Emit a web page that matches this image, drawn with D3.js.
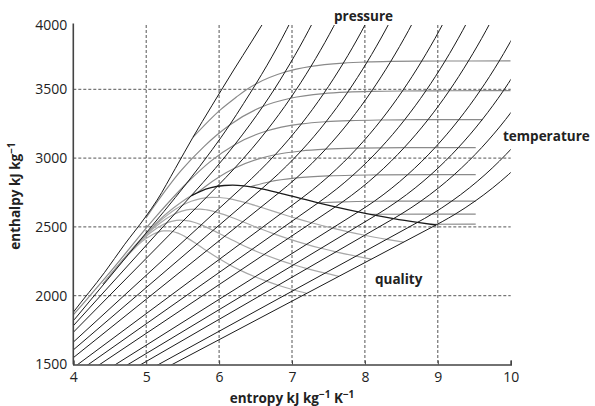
<!DOCTYPE html>
<html><head><meta charset="utf-8">
<script src="https://cdn.jsdelivr.net/npm/d3@7"></script>
<style>
html,body{margin:0;padding:0;background:#fff;}
svg{display:block;}
text{font-family:"Open Sans","Noto Sans",sans-serif;}
</style></head>
<body><svg id="c" width="595" height="406"></svg>
<script>
// ---- axis ticks ----
const sTicks = [4,5,6,7,8,9,10];
const hTicks = [1500,2000,2500,3000,3500,4000];
const sGrid = [5,6,7,8,9];
const hGrid = [2000,2500,3000,3500];

// ---- isobars [s, h]: first point = saturated liquid, second = saturated vapour ----
const pTop = [[3.95,1845],[4.0,1880],[4.43,2170],[4.7,2370],[4.99,2572],[5.15,2695],[5.4,2925],[5.64,3150],[5.9,3380],[6.2,3640],[6.45,3850],[6.6,3978],[6.75,4110]];
const p20 = [[3.95,1788],[4.0154,1827.1],[4.9310,2412.3],[5.5548,2816.9],[5.9059,3061.7],[6.1456,3241.2],[6.3352,3396.2],[6.5043,3539.0],[6.6582,3675.3],[6.7993,3807.8],[7.0541,4067.5]];
const p10 = [[3.3603,1407.9],[5.6159,2725.5],[5.9460,2924.0],[6.2141,3097.5],[6.4219,3242.4],[6.5995,3375.1],[6.7585,3500.9],[6.9045,3625.8],[7.1693,3870.0],[7.4085,4114.5]];
const p5 = [[2.9207,1154.5],[5.9737,2794.2],[6.2109,2925.7],[6.4515,3069.3],[6.6483,3196.7],[6.8210,3317.2],[6.9781,3434.7],[7.2605,3666.9],[7.5136,3900.3],[7.7458,4137.7]];
const p2 = [[2.4467,908.5],[6.3390,2798.3],[6.5475,2903.3],[6.7684,3024.2],[6.9583,3137.7],[7.1292,3248.4],[7.4337,3468.3],[7.7043,3690.7],[7.9509,3917.5],[8.1791,4150.0]];
const p1 = [[2.1381,762.5],[6.5850,2777.1],[6.6956,2828.3],[6.9265,2943.1],[7.1246,3051.6],[7.3029,3158.2],[7.4670,3264.5],[7.7642,3479.1],[8.0311,3698.6],[8.2755,3923.8],[8.5024,4154.3]];
const p05 = [[1.8604,640.1],[6.8207,2748.1],[7.0610,2855.8],[7.2725,2961.0],[7.4614,3064.6],[7.6346,3168.1],[7.7956,3272.4],[8.0893,3484.5],[8.3544,3702.5],[8.5978,3926.4],[8.8240,4156.2]];
const p02 = [[1.5302,504.7],[7.1270,2706.3],[7.2810,2769.1],[7.5081,2870.7],[7.7100,2971.2],[7.8941,3072.1],[8.2236,3277.0],[8.5153,3487.7],[8.7793,3704.8],[9.0221,3928.2],[9.2479,4158.3]];
const p01 = [[1.3028,417.5],[7.3589,2675.0],[7.6148,2776.6],[7.8356,2875.5],[8.0346,2974.5],[8.2172,3074.5],[8.5452,3278.6],[8.8362,3488.7],[9.1002,3705.6],[9.3424,3928.8],[9.5681,4158.0]];
const p005 = [[1.0912,340.5],[7.5931,2645.2],[7.6953,2682.4],[7.9413,2780.2],[8.1592,2877.8],[8.3568,2976.2],[8.5386,3076.0],[8.8658,3279.4],[9.1565,3489.0],[9.4200,3705.6],[9.6625,3928.0],[9.8882,4158.0]];
const p002 = [[0.8320,251.4],[7.9073,2608.9],[8.1290,2686.5],[8.3694,2782.3],[8.5850,2879.1],[8.9628,3076.4],[9.2895,3279.8],[9.5799,3489.5],[9.8432,3706.1],[10.0831,3927.8]];
const p001 = [[0.6492,191.8],[8.1488,2583.9],[8.1741,2592.0],[8.4489,2687.5],[8.6893,2783.0],[8.9049,2879.6],[9.1015,2977.5],[9.2827,3076.7],[9.6094,3280.0],[9.8998,3489.7],[10.1631,3706.3]];
const p0005 = [[0.4762,137.7],[8.3938,2560.7],[8.4940,2592.0],[8.7688,2687.5],[9.0092,2783.0],[9.2248,2879.6],[9.4214,2977.5],[9.6026,3076.7],[9.9293,3280.0],[10.2197,3489.7]];
const p0002 = [[0.2606,73.4],[8.7227,2533.0],[8.9169,2592.0],[9.1917,2687.5],[9.4321,2783.0],[9.6477,2879.6],[9.8443,2977.5],[10.0255,3076.7]];
const p0001 = [[0.1059,29.3],[8.9749,2513.7],[9.0600,2538.0],[9.2368,2592.0],[9.5116,2687.5],[9.7520,2783.0],[9.9676,2879.6],[10.1642,2977.5]];
const isobars = [p20,p10,p5,p2,p1,p05,p02,p01,p005,p002,p001,p0005,p0002,p0001];

// ---- isotherms (superheated) [s, h] ----
const t600 = [[5.64,3150],[6.017,3350.4],[6.2374,3443.5],[6.3637,3493.5],[6.5043,3539.0],[6.9045,3625.8],[7.2605,3666.9],[7.7043,3690.7],[8.0311,3698.6],[8.3544,3702.5],[8.7793,3704.8],[9.1002,3705.6],[9.42,3705.6],[10.0,3706]];
const t500 = [[4.9945,2563.9],[5.4744,2906.5],[5.7956,3084.8],[5.9642,3165.9],[6.1456,3241.2],[6.5995,3375.1],[6.9781,3434.7],[7.4337,3468.3],[7.7642,3479.1],[8.0893,3484.5],[8.5153,3487.7],[8.8362,3488.7],[9.1566,3489.3],[9.8998,3489.7],[10.0,3489.7]];
const t400 = [[3.8787,1788.0],[4.1145,1930.0],[4.4758,2152.8],[5.1455,2582.0],[5.5548,2816.9],[5.8819,2976.3],[6.2141,3097.5],[6.6483,3196.7],[7.1292,3248.4],[7.4670,3264.5],[7.7956,3272.4],[8.2236,3277.0],[8.5452,3278.6],[8.8658,3279.4],[9.6094,3280.0],[9.62,3280.0]];
const t300 = [[5.7059,2749.6],[5.7938,2786.5],[6.2109,2925.7],[6.5412,2994.3],[6.7684,3024.2],[7.1246,3051.6],[7.4614,3064.6],[7.8941,3072.1],[8.2172,3074.5],[8.5386,3076.0],[9.2827,3076.7],[9.52,3076.7]];
const t200 = [[6.4302,2792.0],[6.6956,2828.3],[7.0610,2855.8],[7.5081,2870.7],[7.8356,2875.5],[8.1592,2877.8],[8.9049,2879.6],[9.52,2880.0]];
const t100 = [[7.3542,2675.6],[7.6953,2682.4],[8.1290,2686.5],[8.4489,2687.5],[9.52,2688.0]];
const t50 = [[8.0748,2591.3],[8.1741,2592.0],[9.52,2592.5]];
const t10 = [[8.8999,2519.2],[9.52,2519.6]];
const isotherms = [t600,t500,t400,t300,t200,t100,t50,t10];

// ---- saturated vapour line (near-critical part and main dome) and quality lines [s, h] ----
const satVapourNearCrit = [[4.407,2084.3],[4.931,2412.3],[5.1061,2509.5],[5.2450,2580.8],[5.3733,2637.1],[5.4950,2685.4],[5.6159,2725.5]];
const satVapour = [[5.6159,2725.5],[5.7450,2758.7],[5.8902,2784.6],[6.0696,2800.8],[6.1856,2803.2],[6.3390,2798.3],[6.5850,2777.1],[6.8207,2748.1],[7.1270,2706.3],[7.3589,2675.0],[7.5931,2645.2],[7.9073,2608.9],[8.1488,2583.9],[8.3938,2560.7],[8.7227,2533.0],[8.9749,2513.7]];
const q95 = [[4.407,2084.3],[4.885,2383.0],[5.044,2470.6],[5.170,2534.3],[5.286,2583.8],[5.395,2625.7],[5.503,2659.6],[5.618,2686.6],[5.747,2706.1],[5.906,2715.1],[6.009,2713.5],[6.144,2703.8],[6.363,2676.4],[6.573,2642.7],[6.847,2596.2],[7.056,2562.1],[7.268,2530.0],[7.554,2491.0],[7.774,2464.3],[7.998,2439.5],[8.300,2410.0],[8.531,2389.5]];
const q90 = [[4.407,2084.3],[4.839,2353.8],[4.983,2431.7],[5.095,2487.8],[5.198,2530.5],[5.295,2566.0],[5.390,2593.7],[5.491,2614.5],[5.604,2627.5],[5.742,2629.5],[5.832,2623.7],[5.950,2609.3],[6.140,2575.6],[6.325,2537.3],[6.567,2486.1],[6.753,2449.2],[6.943,2414.7],[7.200,2373.1],[7.399,2344.7],[7.602,2318.4],[7.877,2287.0],[8.088,2265.3]];
const q85 = [[4.407,2084.3],[4.794,2324.5],[4.921,2392.9],[5.020,2441.3],[5.111,2477.2],[5.195,2506.3],[5.278,2527.9],[5.365,2542.5],[5.461,2549.0],[5.579,2543.8],[5.655,2534.0],[5.755,2514.8],[5.918,2474.9],[6.077,2431.9],[6.288,2376.1],[6.451,2336.4],[6.618,2299.5],[6.846,2255.3],[7.024,2225.1],[7.206,2197.2],[7.453,2164.1],[7.645,2141.0]];
const q80 = [[4.407,2084.3],[4.748,2295.3],[4.859,2354.0],[4.945,2394.7],[5.024,2423.9],[5.095,2446.6],[5.165,2462.0],[5.238,2470.4],[5.318,2470.5],[5.415,2458.1],[5.478,2444.2],[5.561,2420.3],[5.696,2374.2],[5.829,2326.5],[6.008,2266.0],[6.148,2223.5],[6.293,2184.3],[6.492,2137.4],[6.649,2105.5],[6.810,2076.1],[7.030,2041.1],[7.201,2016.8]];
const qualityLines = [q80,q85,q90,q95];

// ---- layout ----
const svg = d3.select("#c");
const x = d3.scaleLinear().domain([4,10]).range([73.3,510.7]);
const y = d3.scaleLinear().domain([1500,4000]).range([364.5,20.5]);
const plotTop = 25;

svg.append("defs").append("clipPath").attr("id","clip")
  .append("rect").attr("x",x(4)).attr("y",plotTop)
  .attr("width",x(10)-x(4)).attr("height",y(1500)-plotTop);

// grid
const grid = svg.append("g").attr("stroke","#555").attr("stroke-width",1).attr("stroke-dasharray","3,2");
grid.selectAll("line.v").data(sGrid).join("line")
  .attr("x1",d=>x(d)).attr("x2",d=>x(d)).attr("y1",plotTop).attr("y2",y(1500));
grid.selectAll("line.h").data(hGrid).join("line")
  .attr("x1",x(4)).attr("x2",x(10)).attr("y1",d=>y(d)).attr("y2",d=>y(d));

const curve = d3.line().x(d=>x(d[0])).y(d=>y(d[1])).curve(d3.curveMonotoneX);
const straight = d3.line().x(d=>x(d[0])).y(d=>y(d[1]));

const plot = svg.append("g").attr("clip-path","url(#clip)").attr("fill","none");

// quality lines
plot.selectAll("path.q").data(qualityLines).join("path")
  .attr("d",curve).attr("stroke","#a8a8a8").attr("stroke-width",1.2);
plot.append("path").attr("d",curve(satVapourNearCrit)).attr("stroke","#9a9a9a").attr("stroke-width",1.2);
// isotherms
plot.selectAll("path.t").data(isotherms).join("path")
  .attr("d",curve).attr("stroke","#8a8a8a").attr("stroke-width",1.2);
// isobars
plot.append("path").attr("d",curve(pTop)).attr("stroke","#1a1a1a").attr("stroke-width",1);
isobars.forEach(p=>{
  plot.append("path").attr("d",straight(p.slice(0,2))).attr("stroke","#1a1a1a").attr("stroke-width",1);
  plot.append("path").attr("d",curve(p.slice(1))).attr("stroke","#1a1a1a").attr("stroke-width",1);
});
// saturated vapour
plot.append("path").attr("d",curve(satVapour)).attr("stroke","#1a1a1a").attr("stroke-width",1.3);

// axes
const ax = svg.append("g").attr("transform",`translate(0,${y(1500)})`)
  .call(d3.axisBottom(x).tickValues(sTicks).tickSize(-4).tickPadding(8).tickFormat(d3.format("d")));
ax.select(".domain").attr("stroke","#444").attr("stroke-width",1.6);
ax.selectAll(".tick line").attr("stroke","#444");
ax.selectAll("text").attr("font-size",14).attr("fill","#222");

const ay = svg.append("g").attr("transform",`translate(${x(4)},0)`)
  .call(d3.axisLeft(y).tickValues(hTicks).tickSize(0).tickPadding(6).tickFormat(d3.format("d")));
ay.select(".domain").attr("d",`M0,${y(1500)}V${plotTop-1.5}`).attr("stroke","#444").attr("stroke-width",1.6);
ay.selectAll("text").attr("font-size",14).attr("fill","#222");
ay.selectAll(".tick").filter(d=>d===4000).select("text").attr("dy","0.65em");

// titles
svg.append("text").attr("x",292).attr("y",403).attr("text-anchor","middle")
  .attr("font-size",13.5).attr("font-weight","bold").attr("fill","#222")
  .html('entropy kJ kg<tspan dy="-5" font-size="10">−1</tspan><tspan dy="5"> K</tspan><tspan dy="-5" font-size="10">−1</tspan>');
svg.append("text").attr("transform","translate(20,196) rotate(-90)").attr("text-anchor","middle")
  .attr("font-size",13.5).attr("font-weight","bold").attr("fill","#222")
  .html('enthalpy kJ kg<tspan dy="-5" font-size="10">−1</tspan>');

const lab = (t,xx,yy)=>svg.append("text").attr("x",xx).attr("y",yy).attr("font-size",13.5)
  .attr("font-weight","bold").attr("fill","#222").text(t);
lab("pressure",334,21);
lab("temperature",503,141);
lab("quality",375,284);
</script></body></html>
